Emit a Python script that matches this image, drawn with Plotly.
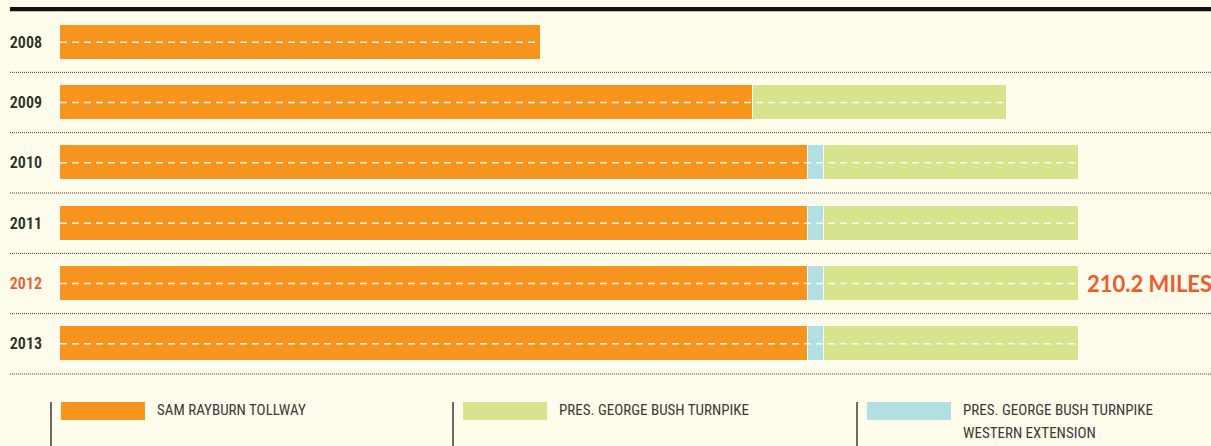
import plotly.graph_objects as go

# ---- data ----
years = ["2008", "2009", "2010", "2011", "2012", "2013"]
sam_rayburn = [99.2, 142.9, 154.2, 154.2, 154.2, 154.2]
western_ext = [None, None, 3.4, 3.4, 3.4, 3.4]
bush_turnpike = [None, 52.4, 52.6, 52.6, 52.6, 52.6]
series_names = ["SAM RAYBURN TOLLWAY", "PRES. GEORGE BUSH TURNPIKE",
                "PRES. GEORGE BUSH TURNPIKE<br>WESTERN EXTENSION"]
highlight_year = "2012"
highlight_label = "210.2 MILES"

# ---- style ----
W, H = 1211, 446
ML, MR, MT, MB = 60, 0, 12, 72
BG = "#FFFCEC"
ORANGE = "#F7941D"
GREEN = "#D7E48D"
BLUE = "#B2DFDF"
RED = "#F15A2B"
DARK = "#263326"
TEXT = "#3A3A38"
NARROW = ("Roboto Condensed, Noto Sans Condensed, Liberation Sans Narrow, "
          "DejaVu Sans Condensed, sans-serif")

pw = W - ML - MR
ph = H - MT - MB


def px_x(p):
    return (p - ML) / pw


def px_y(p):
    return (H - MB - p) / ph


idx = list(range(len(years)))
totals = [sum(v for v in (a, b, c) if v is not None)
          for a, b, c in zip(sam_rayburn, western_ext, bush_turnpike)]

fig = go.Figure()
line_kw = dict(color="#FFFEF8", width=1.5)
fig.add_trace(go.Bar(y=idx, x=sam_rayburn, orientation="h", width=0.58,
                     marker=dict(color=ORANGE, line=line_kw), name=series_names[0]))
fig.add_trace(go.Bar(y=idx, x=western_ext, orientation="h", width=0.58,
                     marker=dict(color=BLUE, line=line_kw), name=series_names[2]))
fig.add_trace(go.Bar(y=idx, x=bush_turnpike, orientation="h", width=0.58,
                     marker=dict(color=GREEN, line=line_kw), name=series_names[1]))

# white dashed "lane" lines
for i, t in zip(idx, totals):
    fig.add_trace(go.Scatter(x=[0, t], y=[i, i], mode="lines",
                             line=dict(color="rgba(255,255,255,0.9)", width=1.5,
                                       dash="7px,5px"),
                             hoverinfo="skip", showlegend=False))

ticktext = [f"<span style='color:{RED}'>{y}</span>" if y == highlight_year else y
            for y in years]

shapes = []
# top black rule
shapes.append(dict(type="rect", xref="paper", yref="paper",
                   x0=px_x(10), x1=1.0, y0=px_y(11.3), y1=px_y(7),
                   fillcolor="#111111", line=dict(width=0), layer="above"))
# dotted separators
n = len(years)
for k in range(1, n + 1):
    yy = 1 - k / n
    shapes.append(dict(type="line", xref="paper", yref="paper",
                       x0=px_x(10), x1=1.0, y0=yy, y1=yy,
                       line=dict(color="#3B3B3B", width=1, dash="1px,1px")))

# custom legend
leg_colors = [ORANGE, GREEN, BLUE]
leg_names = [series_names[0], series_names[1], series_names[2]]
leg_x = [51, 453, 857]
annotations = []
for lx, c, nm in zip(leg_x, leg_colors, leg_names):
    shapes.append(dict(type="line", xref="paper", yref="paper",
                       x0=px_x(lx), x1=px_x(lx), y0=px_y(402), y1=px_y(446),
                       line=dict(color="#3A3A38", width=1.5)))
    shapes.append(dict(type="rect", xref="paper", yref="paper",
                       x0=px_x(lx + 10), x1=px_x(lx + 94), y0=px_y(420), y1=px_y(402),
                       fillcolor=c, line=dict(width=0)))
    for j, part in enumerate(nm.split("<br>")):
        annotations.append(dict(xref="paper", yref="paper", x=px_x(lx + 104),
                                y=px_y(410 + 23 * j),
                                xanchor="left", yanchor="middle", align="left",
                                text=part, showarrow=False,
                                font=dict(family=NARROW, size=15, color=TEXT, weight=400)))

# total label
hi = years.index(highlight_year)
annotations.append(dict(x=totals[hi], y=hi, xref="x", yref="y", xanchor="left",
                        yanchor="middle", xshift=6, text=f"<b>{highlight_label}</b>",
                        showarrow=False,
                        font=dict(family="Lato, Open Sans, sans-serif", size=22, color=RED)))

px_per_mile = (1079 - 60) / totals[hi]
fig.update_layout(
    width=W, height=H,
    margin=dict(l=ML, r=MR, t=MT, b=MB, pad=0),
    paper_bgcolor=BG, plot_bgcolor=BG,
    barmode="stack", bargap=0, showlegend=False,
    xaxis=dict(range=[0, pw / px_per_mile], visible=False, fixedrange=True),
    yaxis=dict(range=[n - 0.5, -0.5], tickmode="array", tickvals=idx, ticktext=ticktext,
               showgrid=False, zeroline=False, showline=False, ticks="",
               ticklabelstandoff=17, fixedrange=True,
               tickfont=dict(family=NARROW, size=16, color=DARK, weight=600)),
    shapes=shapes, annotations=annotations,
)

fig.write_html("out.html", config={"displayModeBar": False},
               post_script="document.body.style.margin='0';"
                           "document.body.style.background='" + BG + "';")
